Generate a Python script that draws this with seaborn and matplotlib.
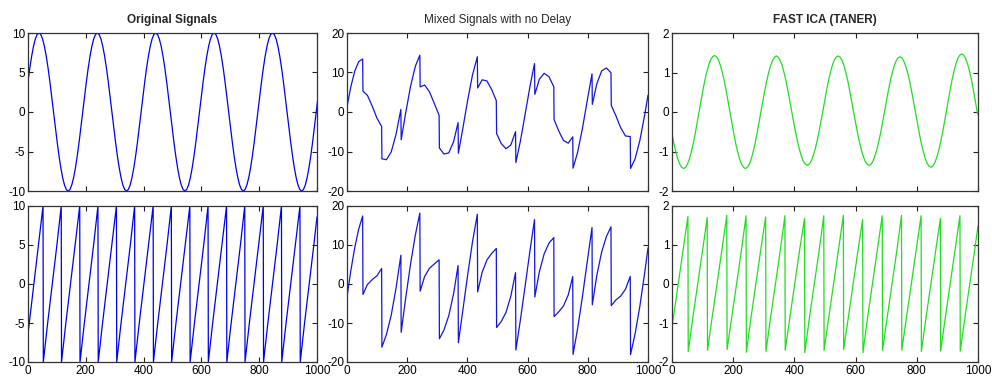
import matplotlib
matplotlib.use("Agg")
import matplotlib.pyplot as plt
import seaborn as sns
import pandas as pd
import numpy as np

# ---- data ----
# sampling grid of the smooth sine-like traces (sample positions)
t_fine = np.arange(160) * 6.3125

orig_sine = [3.83, 5.56, 7.07, 8.31, 9.24, 9.81,
             10.0, 9.81, 9.24, 8.31, 7.07, 5.56, 3.83, 1.95, 0.0, -1.95, -3.83, -5.56, -7.07, -8.31, -9.24, -9.81,
             -10.0, -9.81, -9.24, -8.31, -7.07, -5.56, -3.83, -1.95, 0.0, 1.95, 3.83, 5.56, 7.07, 8.31, 9.24, 9.81,
             10.0, 9.81, 9.24, 8.31, 7.07, 5.56, 3.83, 1.95, 0.0, -1.95, -3.83, -5.56, -7.07, -8.31, -9.24, -9.81,
             -10.0, -9.81, -9.24, -8.31, -7.07, -5.56, -3.83, -1.95, 0.0, 1.95, 3.83, 5.56, 7.07, 8.31, 9.24, 9.81,
             10.0, 9.81, 9.24, 8.31, 7.07, 5.56, 3.83, 1.95, 0.0, -1.95, -3.83, -5.56, -7.07, -8.31, -9.24, -9.81,
             -10.0, -9.81, -9.24, -8.31, -7.07, -5.56, -3.83, -1.95, 0.0, 1.95, 3.83, 5.56, 7.07, 8.31, 9.24, 9.81,
             10.0, 9.81, 9.24, 8.31, 7.07, 5.56, 3.83, 1.95, 0.0, -1.95, -3.83, -5.56, -7.07, -8.31, -9.24, -9.81,
             -10.0, -9.81, -9.24, -8.31, -7.07, -5.56, -3.83, -1.95, 0.0, 1.95, 3.83, 5.56, 7.07, 8.31, 9.24, 9.81,
             10.0, 9.81, 9.24, 8.31, 7.07, 5.56, 3.83, 1.95, 0.0, -1.95, -3.83, -5.56, -7.07, -8.31, -9.24, -9.81,
             -10.0, -9.81, -9.24, -8.31, -7.07, -5.56, -3.83, -1.95, 0.0, 1.95]

ica_1 = [-0.55, -0.80, -1.01, -1.19, -1.32, -1.40,
         -1.43, -1.40, -1.32, -1.19, -1.01, -0.80, -0.55, -0.28, 0.0, 0.28, 0.55, 0.80, 1.01, 1.19, 1.32, 1.40,
         1.43, 1.40, 1.32, 1.19, 1.01, 0.80, 0.55, 0.28, 0.0, -0.28, -0.55, -0.80, -1.01, -1.19, -1.32, -1.40,
         -1.43, -1.40, -1.32, -1.19, -1.01, -0.80, -0.55, -0.28, 0.0, 0.27, 0.54, 0.78, 0.99, 1.17, 1.30, 1.38,
         1.42, 1.39, 1.31, 1.18, 1.00, 0.79, 0.54, 0.27, 0.0, -0.26, -0.52, -0.75, -0.95, -1.12, -1.25, -1.32,
         -1.35, -1.32, -1.25, -1.12, -0.96, -0.76, -0.53, -0.27, 0.0, 0.27, 0.54, 0.79, 1.00, 1.18, 1.31, 1.39,
         1.42, 1.39, 1.31, 1.18, 1.00, 0.79, 0.54, 0.27, 0.0, -0.26, -0.52, -0.75, -0.95, -1.12, -1.25, -1.32,
         -1.35, -1.32, -1.25, -1.12, -0.96, -0.76, -0.53, -0.27, 0.0, 0.27, 0.54, 0.78, 0.99, 1.16, 1.29, 1.37,
         1.40, 1.37, 1.29, 1.16, 0.99, 0.78, 0.54, 0.27, 0.0, -0.27, -0.53, -0.78, -0.99, -1.16, -1.29, -1.37,
         -1.40, -1.37, -1.29, -1.16, -0.99, -0.78, -0.54, -0.27, 0.0, 0.29, 0.56, 0.82, 1.04, 1.22, 1.36, 1.44,
         1.47, 1.44, 1.36, 1.22, 1.04, 0.82, 0.56, 0.29, 0.0, -0.15]

# vertices of the sawtooth-containing traces
t = [0, 13, 26, 39, 52,
     53, 68, 84, 100, 115,
     116, 131, 147, 163, 179,
     180, 195, 211, 227, 242,
     243, 258, 274, 290, 306,
     307, 322, 338, 354, 369,
     370, 385, 401, 417, 433,
     434, 449, 465, 481, 496,
     497, 512, 528, 544, 560,
     561, 576, 592, 608, 623,
     624, 639, 655, 671, 687,
     688, 703, 719, 735, 750,
     751, 766, 782, 798, 814,
     815, 830, 846, 862, 877,
     878, 893, 909, 925, 941,
     942, 957, 973, 989, 1000]

orig_saw = [-6.4, -2.3, 1.8, 5.9, 10,
            -10, -5, 0, 5, 10,
            -10, -5, 0, 5, 10,
            -10, -5, 0, 5, 10,
            -10, -5, 0, 5, 10,
            -10, -5, 0, 5, 10,
            -10, -5, 0, 5, 10,
            -10, -5, 0, 5, 10,
            -10, -5, 0, 5, 10,
            -10, -5, 0, 5, 10,
            -10, -5, 0, 5, 10,
            -10, -5, 0, 5, 10,
            -10, -5, 0, 5, 10,
            -10, -5, 0, 5, 10,
            -10, -5, 0, 5, 10,
            -10, -5, 0, 5, 8.6]

mix_1 = [1.38, 6.48, 10.40, 12.76, 13.43,
         5.29, 4.19, 1.46, -1.64, -3.63,
         -11.85, -12.08, -10.08, -5.63, 0.66,
         -7.03, -0.23, 6.45, 11.56, 14.38,
         6.36, 6.81, 5.11, 2.17, -0.83,
         -9.11, -10.63, -10.36, -7.56, -2.69,
         -10.45, -4.09, 3.03, 9.40, 13.99,
         6.08, 8.15, 7.85, 5.64, 2.87,
         -5.46, -7.93, -9.29, -8.40, -4.98,
         -12.81, -7.39, -0.48, 6.53, 12.26,
         4.46, 8.28, 9.80, 8.94, 6.40,
         -1.92, -4.72, -7.19, -7.90, -6.28,
         -14.22, -10.26, -4.23, 2.81, 9.67,
         1.93, 7.14, 10.40, 11.13, 9.93,
         1.66, -0.88, -3.94, -6.06, -6.22,
         -14.28, -11.90, -7.19, -0.71, 4.25]

mix_2 = [-3.29, 3.54, 9.43, 14.10, 17.44,
         -2.68, -0.12, 1.15, 2.13, 3.98,
         -16.19, -12.95, -7.95, -1.02, 7.37,
         -12.39, -3.61, 5.08, 12.54, 18.18,
         -1.83, 1.95, 4.03, 5.13, 6.20,
         -14.03, -11.81, -8.17, -2.54, 4.73,
         -15.08, -6.65, 2.39, 10.84, 17.88,
         -2.05, 3.00, 6.19, 7.87, 9.11,
         -11.15, -9.67, -7.32, -3.20, 2.92,
         -16.95, -9.25, -0.38, 8.58, 16.51,
         -3.33, 3.10, 7.72, 10.47, 11.89,
         -8.36, -7.15, -5.67, -2.81, 1.90,
         -18.06, -11.51, -3.34, 5.64, 14.47,
         -5.33, 2.21, 8.20, 12.20, 14.67,
         -5.54, -4.11, -3.11, -1.36, 1.94,
         -18.10, -12.81, -5.67, 2.86, 9.24]

ica_2 = [-1.11, -0.40, 0.31, 1.02, 1.73,
         -1.73, -0.87, 0.00, 0.87, 1.70,
         -1.70, -0.87, 0.00, 0.87, 1.76,
         -1.68, -0.87, 0.00, 0.87, 1.75,
         -1.75, -0.87, 0.00, 0.87, 1.72,
         -1.73, -0.87, 0.00, 0.87, 1.75,
         -1.70, -0.87, 0.00, 0.87, 1.68,
         -1.76, -0.87, 0.00, 0.87, 1.75,
         -1.70, -0.87, 0.00, 0.87, 1.76,
         -1.68, -0.87, 0.00, 0.87, 1.65,
         -1.76, -0.87, 0.00, 0.87, 1.75,
         -1.70, -0.87, 0.00, 0.87, 1.76,
         -1.70, -0.87, 0.00, 0.87, 1.75,
         -1.73, -0.87, 0.00, 0.87, 1.68,
         -1.72, -0.87, 0.00, 0.87, 1.75,
         -1.72, -0.87, 0.00, 0.87, 1.49]

titles = ["Original Signals", "Mixed Signals with no Delay", "FAST ICA (TANER)"]
title_weights = ["bold", "normal", "bold"]
x_ticks = [0, 200, 400, 600, 800, 1000]
y_ticks = [[-10, -5, 0, 5, 10], [-20, -10, 0, 10, 20], [-2, -1, 0, 1, 2]]

# ---- style ----
sns.set_style("ticks")
plt.rcParams["font.family"] = ["Liberation Sans", "DejaVu Sans"]
plt.rcParams["axes.unicode_minus"] = False

fig = plt.figure(figsize=(9.92, 3.85), dpi=100)
fig.patch.set_facecolor("white")

col_x = [(28, 317), (347, 648), (672, 978)]
row_y = [(33, 191), (206, 362)]
W, H = 992.0, 385.0

series = [[(t_fine, orig_sine), (t, mix_1), (t_fine, ica_1)],
          [(t, orig_saw), (t, mix_2), (t, ica_2)]]
colors = ["#0000ee", "#1515dd", "#22dd22"]

for r in range(2):
    for c in range(3):
        x0, x1 = col_x[c]
        ytop, ybot = row_y[r]
        ax = fig.add_axes([x0 / W, 1 - ybot / H, (x1 - x0) / W, (ybot - ytop) / H])
        xs, ys = series[r][c]
        df = pd.DataFrame({"t": xs, "v": ys})
        sns.lineplot(data=df, x="t", y="v", ax=ax, color=colors[c],
                     linewidth=0.9, estimator=None, sort=False)
        ax.set_xlim(0, 1000)
        yt = y_ticks[c]
        ax.set_ylim(yt[0], yt[-1])
        ax.set_xticks(x_ticks)
        ax.set_yticks(yt)
        ax.set_xlabel("")
        ax.set_ylabel("")
        ax.tick_params(direction="in", length=3.5, width=0.8, top=True, right=True,
                       labelsize=8.5, pad=2, colors="#222222", labelcolor="black")
        if r == 0:
            ax.set_xticklabels([])
            ax.set_title(titles[c], fontsize=8.5, fontweight=title_weights[c], pad=7)
        for sp in ax.spines.values():
            sp.set_visible(True)
            sp.set_linewidth(0.9)
            sp.set_color("#333333")

fig.savefig("out.png", dpi=100, facecolor="white")
